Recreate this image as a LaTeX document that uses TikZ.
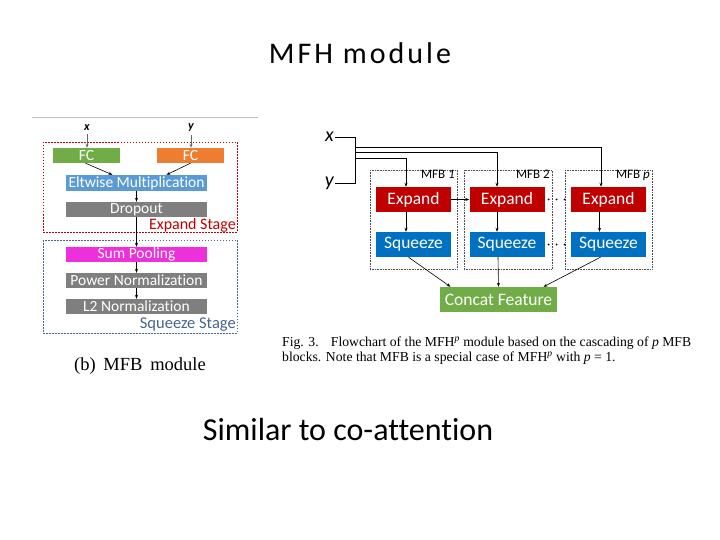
\documentclass[tikz,border=0pt]{standalone}
\usepackage{fontspec}
\setmainfont{Carlito}[Ligatures=NoCommon]
\newfontfamily\titlefont{Carlito}[Ligatures=NoCommon,LetterSpace=10]
\newfontfamily\serifcap{Liberation Serif}
\usetikzlibrary{arrows.meta,calc}
\definecolor{fcgreen}{RGB}{112,173,71}
\definecolor{fcorange}{RGB}{237,125,49}
\definecolor{eltblue}{RGB}{91,155,213}
\definecolor{boxgray}{RGB}{127,127,127}
\definecolor{summag}{RGB}{238,48,220}
\definecolor{expred}{RGB}{192,0,0}
\definecolor{sqblue}{RGB}{0,112,192}
\definecolor{sqstage}{RGB}{70,100,140}
\definecolor{stagered}{RGB}{192,0,0}
\tikzset{
  lbox/.style={rectangle, inner sep=0pt, text=white, font=\fontsize{15.5}{15.5}\selectfont, minimum height=15pt},
  rbox/.style={rectangle, inner sep=0pt, text=white, font=\fontsize{17.5}{17.5}\selectfont, minimum width=75pt, minimum height=25pt},
  arr/.style={-{Stealth[length=4pt,width=3pt]}, line width=0.6pt},
  lin/.style={line width=0.7pt},
  mfbbox/.style={draw=black!70, densely dotted, line width=0.6pt},
  dots/.style={line width=2pt, line cap=round, dash pattern=on 0pt off 8pt, dash phase=-4pt},
}
\begin{document}
\begin{tikzpicture}[x=1pt,y=-1pt]
\useasboundingbox (0,0) rectangle (720,540);
% titles
\node (title) at (360,53) {\titlefont\fontsize{30}{30}\selectfont MFH module};
\node (sim) at (348,430) {\fontsize{32}{32}\selectfont Similar to co-attention};
% ---------------- left figure ----------------
\draw[black!25, line width=0.8pt] (32,117) -- (258,117);
\draw[stagered, dashed, dash pattern=on 1.5pt off 1.5pt, line width=0.8pt] (43,142) rectangle (237,232);
\draw[sqstage, dashed, dash pattern=on 1.5pt off 1.5pt, line width=0.8pt] (43,240) rectangle (237,333);
\node[font=\fontsize{12}{12}\selectfont\bfseries\itshape] (lx) at (87,128) {x};
\node[font=\fontsize{12}{12}\selectfont\bfseries\itshape] (ly) at (191,128) {y};
\node[lbox, fill=fcgreen, minimum width=67pt] (fcx) at (86.5,155.5) {FC};
\node[lbox, fill=fcorange, minimum width=67pt] (fcy) at (190.5,155.5) {FC};
\node[lbox, fill=eltblue, minimum width=141pt, minimum height=16pt] (elt) at (136.5,183) {Eltwise Multiplication};
\node[lbox, fill=boxgray, minimum width=141pt] (drop) at (136.5,209.5) {Dropout};
\node[lbox, fill=summag, minimum width=141pt] (sum) at (136.5,254.5) {Sum Pooling};
\node[lbox, fill=boxgray, minimum width=141pt] (pow) at (136.5,280.5) {Power Normalization};
\node[lbox, fill=boxgray, minimum width=141pt] (l2) at (136.5,306.5) {L2 Normalization};
\node[anchor=south east, inner sep=1pt, text=stagered, font=\fontsize{16}{16}\selectfont] (expst) at (237,233) {Expand Stage};
\node[anchor=south east, inner sep=1pt, text=sqstage, font=\fontsize{16.5}{16.5}\selectfont] (sqst) at (237,333) {Squeeze Stage};
\draw[arr, black!60] (lx) -- (fcx.north -| lx);
\draw[arr, black!60] (ly) -- (fcy.north -| ly);
\draw[arr] ($(fcx.south)+(-1,0)$) -- ($(elt.north)+(-24,0)$);
\draw[arr] ($(fcy.south)+(0,0)$) -- ($(elt.north)+(30,0)$);
\draw[arr] (elt.south) -- (drop.north);
\draw[arr] (drop.south) -- (sum.north);
\draw[arr] (sum.south) -- (pow.north);
\draw[arr] (pow.south) -- (l2.north);
\node[font=\serifcap\fontsize{18.5}{18.5}\selectfont] (capb) at (140,366) {(b)\, MFB\, module};
% ---------------- right figure ----------------
\node[font=\fontsize{20}{20}\selectfont\itshape, anchor=east, inner sep=1pt] (rx) at (335,137) {x};
\node[font=\fontsize{20}{20}\selectfont\itshape, anchor=east, inner sep=1pt] (ry) at (335,183) {y};
\coordinate (j) at (355,137);
\draw[lin] (rx.east) -- (j) -- (355,183) -- (ry.east);
\draw[mfbbox] (370,170) rectangle (457,269);
\draw[mfbbox] (464,170) rectangle (552,269);
\draw[mfbbox] (565,170) rectangle (652,269);
\node[anchor=north east, inner sep=1pt, font=\fontsize{13}{13}\selectfont] (m1) at (456,169) {MFB \textit{1}};
\node[anchor=north east, inner sep=1pt, font=\fontsize{13}{13}\selectfont] (m2) at (551,169) {MFB 2};
\node[anchor=north east, inner sep=1pt, font=\fontsize{13}{13}\selectfont] (mp) at (651,169) {MFB \textit{p}};
\node[rbox, fill=expred] (e1) at (413.5,199.5) {Expand};
\node[rbox, fill=expred] (e2) at (507,199.5) {Expand};
\node[rbox, fill=expred] (ep) at (608.5,199.5) {Expand};
\node[rbox, fill=sqblue] (s1) at (413.5,244.5) {Squeeze};
\node[rbox, fill=sqblue] (s2) at (507,244.5) {Squeeze};
\node[rbox, fill=sqblue] (s3) at (608.5,244.5) {Squeeze};
\node[rbox, fill=fcgreen, minimum width=117pt] (cf) at (498.5,299.5) {Concat Feature};
\coordinate (t1) at (355,158);
\coordinate (t2) at (355,152);
\coordinate (t3) at (355,147);
\draw[arr] (t3) -- (601,147) -- ($(ep.north)+(-7.5,0)$);
\draw[arr] (t2) -- (497,152) -- ($(e2.north)+(-10,0)$);
\draw[arr] (t1) -- (406,158) -- ($(e1.north)+(-7.5,0)$);
\draw[arr] ($(e1.south)+(-7.5,0)$) -- ($(s1.north)+(-7.5,0)$);
\draw[arr] ($(e2.south)+(-10,0)$) -- ($(s2.north)+(-10,0)$);
\draw[arr] ($(ep.south)+(-9,0)$) -- ($(s3.north)+(-9,0)$);
\draw[arr] (e1.east) -- (e2.west);
\draw[dots] (e2.east) -- (ep.west);
\draw[dots] (s2.east) -- (s3.west);
\draw[arr] ($(s1.south)+(-5,0)$) -- ($(cf.north)+(-48,0)$);
\draw[arr] ($(s2.south)+(-9,0)$) -- (cf.north);
\draw[arr] ($(s3.south)+(-8,0)$) -- ($(cf.north)+(45,0)$);
\node[anchor=west, inner sep=0pt, font=\serifcap\fontsize{13.7}{13.7}\selectfont] (cap1) at (282,343) {Fig. 3.\;\; Flowchart of the MFH\textsuperscript{\textit{p}} module based on the cascading of \textit{p} MFB};
\node[anchor=west, inner sep=0pt, font=\serifcap\fontsize{13.7}{13.7}\selectfont] (cap2) at (282,358) {blocks. Note that MFB is a special case of MFH\textsuperscript{\textit{p}} with \textit{p} = 1.};
\end{tikzpicture}
\end{document}
